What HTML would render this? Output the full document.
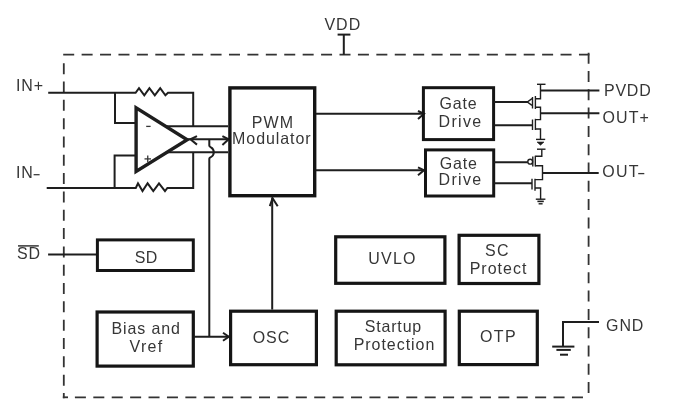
<!DOCTYPE html>
<html><head><meta charset="utf-8"><style>
html,body{margin:0;padding:0;background:#fff;width:685px;height:417px;overflow:hidden}
svg{position:absolute;left:0;top:0;font-family:"Liberation Sans",sans-serif}
svg{filter:grayscale(1)}
</style></head><body>
<svg width="685" height="417" viewBox="0 0 685 417">
<line x1="63.2" y1="54.6" x2="589.4" y2="54.6" stroke="#333333" stroke-width="1.8" stroke-dasharray="11 7.42"/>
<line x1="63.8" y1="63.2" x2="63.8" y2="398.3" stroke="#333333" stroke-width="1.8" stroke-dasharray="11 7.32"/>
<line x1="588.6" y1="52.7" x2="588.6" y2="397.3" stroke="#333333" stroke-width="1.8" stroke-dasharray="11 7.3"/>
<line x1="62.8" y1="397.3" x2="68" y2="397.3" stroke="#333333" stroke-width="1.8" />
<line x1="74.9" y1="397.3" x2="588" y2="397.3" stroke="#333333" stroke-width="1.8" stroke-dasharray="11 7.41"/>
<text transform="translate(342.80,30.0) scale(1,1.07)" font-size="16" letter-spacing="1.0" text-anchor="middle" fill="#363636" stroke="#363636" stroke-width="0.0">VDD</text>
<line x1="337.6" y1="34.6" x2="350.4" y2="34.6" stroke="#1e1e1e" stroke-width="2.0" />
<line x1="343.8" y1="34.6" x2="343.8" y2="54.7" stroke="#1e1e1e" stroke-width="2.0" />
<text transform="translate(16.00,91.1) scale(1,1.07)" font-size="16" letter-spacing="0.85" text-anchor="start" fill="#363636" stroke="#363636" stroke-width="0.0">IN+</text>
<text transform="translate(16.00,178) scale(1,1.07)" font-size="16" letter-spacing="0.85" text-anchor="start" fill="#363636" stroke="#363636" stroke-width="0.0">IN</text>
<line x1="33.6" y1="174.7" x2="39.6" y2="174.7" stroke="#363636" stroke-width="1.25" />
<path d="M48.2,92.8 L135.6,92.8 L139,88.2 L144.3,95.3 L149.4,88.2 L154.8,95.3 L160.2,88.2 L165.4,95.3 L168,92.8 L193.2,92.8 L193.2,126.3" stroke="#1e1e1e" stroke-width="2.0" fill="none" />
<path d="M115,92.8 L115,122.9 L136,122.9" stroke="#1e1e1e" stroke-width="2.0" fill="none" />
<path d="M46.7,188 L135.8,188 L138,183.3 L142.5,191.1 L147.6,183.3 L153.3,191.1 L159,183.3 L165,191.1 L167.4,188 L193.2,188 L193.2,152.4" stroke="#1e1e1e" stroke-width="2.0" fill="none" />
<path d="M114.6,188 L114.6,155.5 L136,155.5" stroke="#1e1e1e" stroke-width="2.0" fill="none" />
<path d="M136.1,107.8 L136.1,171.5 L187.2,139.7 Z" stroke="#1e1e1e" stroke-width="3.4" fill="none" stroke-linejoin="miter"/>
<line x1="166.5" y1="126.3" x2="228" y2="126.3" stroke="#1e1e1e" stroke-width="2.0" />
<line x1="166.5" y1="152.3" x2="228" y2="152.3" stroke="#1e1e1e" stroke-width="2.0" />
<line x1="186" y1="139.3" x2="228.5" y2="139.3" stroke="#1e1e1e" stroke-width="2.0" />
<path d="M197.00,136.20 L190.4,139.3 L197.00,144.60" stroke="#1e1e1e" stroke-width="2.0" fill="none" />
<path d="M222.40,136.20 L228.6,139.3 L222.40,144.90" stroke="#1e1e1e" stroke-width="2.0" fill="none" />
<line x1="146.2" y1="126.4" x2="150.6" y2="126.4" stroke="#363636" stroke-width="1.3" />
<line x1="144.5" y1="158.9" x2="151" y2="158.9" stroke="#363636" stroke-width="1.3" />
<line x1="147.75" y1="155.6" x2="147.75" y2="162.2" stroke="#363636" stroke-width="1.3" />
<path d="M209.3,139.3 L209.3,145.6 C209.3,146.6 210.2,146.8 211,147.4 C213,148.6 213.8,150.2 213.8,152.2 C213.8,154.2 213,155.8 211,157 C210.2,157.6 209.3,157.8 209.3,158.8 L209.3,336.8" stroke="#1e1e1e" stroke-width="2.0" fill="none" />
<rect x="229.90" y="87.90" width="84.80" height="107.80" stroke="#151515" stroke-width="3.4" fill="none"/>
<text transform="translate(272.93,127.6) scale(1,1.07)" font-size="16" letter-spacing="1.15" text-anchor="middle" fill="#363636" stroke="#363636" stroke-width="0.0">PWM</text>
<text transform="translate(271.82,143.8) scale(1,1.07)" font-size="16" letter-spacing="0.94" text-anchor="middle" fill="#363636" stroke="#363636" stroke-width="0.0">Modulator</text>
<line x1="316" y1="113.8" x2="424" y2="113.8" stroke="#1e1e1e" stroke-width="2.0" />
<path d="M418.00,111.00 L424,113.8 L418.00,118.90" stroke="#1e1e1e" stroke-width="2.0" fill="none" />
<line x1="316" y1="170.2" x2="424" y2="170.2" stroke="#1e1e1e" stroke-width="2.0" />
<path d="M418.00,167.40 L424,170.2 L418.00,175.30" stroke="#1e1e1e" stroke-width="2.0" fill="none" />
<rect x="423.40" y="87.70" width="70.20" height="51.90" stroke="#151515" stroke-width="3" fill="none"/>
<text transform="translate(458.47,108.8) scale(1,1.07)" font-size="16" letter-spacing="0.83" text-anchor="middle" fill="#363636" stroke="#363636" stroke-width="0.0">Gate</text>
<text transform="translate(460.50,127.0) scale(1,1.07)" font-size="16" letter-spacing="1.3" text-anchor="middle" fill="#363636" stroke="#363636" stroke-width="0.0">Drive</text>
<rect x="425.50" y="149.90" width="68.20" height="46.10" stroke="#151515" stroke-width="3" fill="none"/>
<text transform="translate(458.72,169.2) scale(1,1.07)" font-size="16" letter-spacing="0.83" text-anchor="middle" fill="#363636" stroke="#363636" stroke-width="0.0">Gate</text>
<text transform="translate(460.50,184.5) scale(1,1.07)" font-size="16" letter-spacing="1.3" text-anchor="middle" fill="#363636" stroke="#363636" stroke-width="0.0">Drive</text>
<line x1="494" y1="102" x2="528" y2="102" stroke="#1e1e1e" stroke-width="2.0" />
<line x1="494" y1="125.3" x2="532.5" y2="125.3" stroke="#1e1e1e" stroke-width="2.0" />
<line x1="494" y1="162.2" x2="527.8" y2="162.2" stroke="#1e1e1e" stroke-width="2.0" />
<line x1="494" y1="183.2" x2="532" y2="183.2" stroke="#1e1e1e" stroke-width="2.0" />
<line x1="537" y1="84.3" x2="545.5" y2="84.3" stroke="#1e1e1e" stroke-width="1.4" />
<path d="M540.5,84.3 L540.5,98.7 L535.4,98.7" stroke="#1e1e1e" stroke-width="1.4" fill="none" />
<line x1="532.5" y1="97" x2="532.5" y2="108.5" stroke="#1e1e1e" stroke-width="1.4" />
<line x1="535.4" y1="96" x2="535.4" y2="109" stroke="#1e1e1e" stroke-width="1.4" />
<path d="M535.4,107.3 L540.5,107.3 L540.5,119.6 L535.4,119.6" stroke="#1e1e1e" stroke-width="1.4" fill="none" />
<line x1="540.5" y1="90.6" x2="599.4" y2="90.6" stroke="#1e1e1e" stroke-width="2.0" />
<line x1="540.5" y1="113.3" x2="599.4" y2="113.3" stroke="#1e1e1e" stroke-width="2.0" />
<path d="M532,98.6 L527.4,102 L532,105.4" stroke="#1e1e1e" stroke-width="1.4" fill="none" />
<line x1="535.4" y1="118.8" x2="535.4" y2="130" stroke="#1e1e1e" stroke-width="1.4" />
<line x1="532.5" y1="119.5" x2="532.5" y2="130" stroke="#1e1e1e" stroke-width="1.4" />
<path d="M535.4,129 L540.5,129 L540.5,139.4" stroke="#1e1e1e" stroke-width="1.4" fill="none" />
<line x1="536" y1="139.4" x2="545.2" y2="139.4" stroke="#1e1e1e" stroke-width="1.4" />
<path d="M537,142 L544,142 L540.5,145.2 Z" stroke="#1e1e1e" stroke-width="0.6" fill="#1e1e1e" />
<line x1="537" y1="149.2" x2="545.5" y2="149.2" stroke="#1e1e1e" stroke-width="1.4" />
<path d="M541.8,149.2 L541.8,156.3 L535.3,156.3" stroke="#1e1e1e" stroke-width="1.4" fill="none" />
<line x1="535.3" y1="155.8" x2="535.3" y2="166.6" stroke="#1e1e1e" stroke-width="1.4" />
<line x1="532.8" y1="156.5" x2="532.8" y2="166.6" stroke="#1e1e1e" stroke-width="1.4" />
<circle cx="530.2" cy="161.7" r="2.4" stroke="#1e1e1e" stroke-width="1.4" fill="none"/>
<path d="M535.3,165.8 L542.5,165.8 L542.5,179.6 L535,179.6" stroke="#1e1e1e" stroke-width="1.4" fill="none" />
<line x1="542.5" y1="173" x2="598.7" y2="173" stroke="#1e1e1e" stroke-width="2.0" />
<line x1="535" y1="178.8" x2="535" y2="190.8" stroke="#1e1e1e" stroke-width="1.4" />
<line x1="532" y1="178.8" x2="532" y2="189.4" stroke="#1e1e1e" stroke-width="1.4" />
<path d="M535,188 L540.6,188 L540.6,199.2" stroke="#1e1e1e" stroke-width="1.4" fill="none" />
<line x1="535.8" y1="199.2" x2="545.4" y2="199.2" stroke="#1e1e1e" stroke-width="1.4" />
<line x1="537.4" y1="201.4" x2="543.8" y2="201.4" stroke="#1e1e1e" stroke-width="1.6" />
<line x1="538.6" y1="203.8" x2="542.6" y2="203.8" stroke="#1e1e1e" stroke-width="1.4" />
<text transform="translate(604.00,95.9) scale(1,1.07)" font-size="16" letter-spacing="0.77" text-anchor="start" fill="#363636" stroke="#363636" stroke-width="0.0">PVDD</text>
<text transform="translate(602.50,122.5) scale(1,1.07)" font-size="16" letter-spacing="1.1" text-anchor="start" fill="#363636" stroke="#363636" stroke-width="0.0">OUT+</text>
<text transform="translate(602.20,176.6) scale(1,1.07)" font-size="16" letter-spacing="1.33" text-anchor="start" fill="#363636" stroke="#363636" stroke-width="0.0">OUT</text>
<line x1="638.2" y1="173.6" x2="644.3" y2="173.6" stroke="#363636" stroke-width="1.3" />
<text transform="translate(17.00,258.7) scale(1,1.07)" font-size="16" letter-spacing="0.8" text-anchor="start" fill="#363636" stroke="#363636" stroke-width="0.0">SD</text>
<line x1="18.0" y1="245.9" x2="38.8" y2="245.9" stroke="#363636" stroke-width="1.5" />
<line x1="48.1" y1="254.4" x2="96" y2="254.4" stroke="#1e1e1e" stroke-width="2.0" />
<rect x="97.40" y="239.90" width="95.90" height="30.60" stroke="#151515" stroke-width="3" fill="none"/>
<text transform="translate(146.15,262.9) scale(1,1.07)" font-size="16" letter-spacing="0.3" text-anchor="middle" fill="#363636" stroke="#363636" stroke-width="0.0">SD</text>
<rect x="97.10" y="312.00" width="96.20" height="54.10" stroke="#151515" stroke-width="3.2" fill="none"/>
<text transform="translate(146.09,333.9) scale(1,1.07)" font-size="16" letter-spacing="0.87" text-anchor="middle" fill="#363636" stroke="#363636" stroke-width="0.0">Bias and</text>
<text transform="translate(146.50,351.5) scale(1,1.07)" font-size="16" letter-spacing="1.3" text-anchor="middle" fill="#363636" stroke="#363636" stroke-width="0.0">Vref</text>
<line x1="194" y1="336.8" x2="229" y2="336.8" stroke="#1e1e1e" stroke-width="2.0" />
<path d="M223.00,332.70 L228.8,336.7 L223.00,340.70" stroke="#1e1e1e" stroke-width="2.0" fill="none" />
<rect x="230.60" y="311.20" width="85.80" height="53.50" stroke="#151515" stroke-width="3.2" fill="none"/>
<text transform="translate(271.48,342.6) scale(1,1.07)" font-size="16" letter-spacing="0.95" text-anchor="middle" fill="#363636" stroke="#363636" stroke-width="0.0">OSC</text>
<line x1="272.2" y1="309.6" x2="272.2" y2="197.4" stroke="#1e1e1e" stroke-width="2.0" />
<path d="M269.80,206.20 L272.6,198.2 L277.70,206.20" stroke="#1e1e1e" stroke-width="2.0" fill="none" />
<rect x="335.70" y="236.80" width="109.20" height="46.50" stroke="#151515" stroke-width="3.2" fill="none"/>
<text transform="translate(392.50,263.9) scale(1,1.07)" font-size="16" letter-spacing="1.2" text-anchor="middle" fill="#363636" stroke="#363636" stroke-width="0.0">UVLO</text>
<rect x="459.10" y="235.30" width="79.80" height="48.20" stroke="#151515" stroke-width="3.2" fill="none"/>
<text transform="translate(497.50,255.7) scale(1,1.07)" font-size="16" letter-spacing="1.3" text-anchor="middle" fill="#363636" stroke="#363636" stroke-width="0.0">SC</text>
<text transform="translate(498.50,273.7) scale(1,1.07)" font-size="16" letter-spacing="1.0" text-anchor="middle" fill="#363636" stroke="#363636" stroke-width="0.0">Protect</text>
<rect x="336.20" y="311.20" width="108.90" height="53.60" stroke="#151515" stroke-width="3.2" fill="none"/>
<text transform="translate(393.41,331.6) scale(1,1.07)" font-size="16" letter-spacing="0.82" text-anchor="middle" fill="#363636" stroke="#363636" stroke-width="0.0">Startup</text>
<text transform="translate(394.48,349.5) scale(1,1.07)" font-size="16" letter-spacing="0.96" text-anchor="middle" fill="#363636" stroke="#363636" stroke-width="0.0">Protection</text>
<rect x="459.30" y="311.20" width="78.00" height="53.40" stroke="#151515" stroke-width="3.2" fill="none"/>
<text transform="translate(498.48,341.8) scale(1,1.07)" font-size="16" letter-spacing="1.45" text-anchor="middle" fill="#363636" stroke="#363636" stroke-width="0.0">OTP</text>
<path d="M599,322 L563,322 L563,346.6" stroke="#1e1e1e" stroke-width="2.0" fill="none" />
<line x1="552.2" y1="346.6" x2="574.4" y2="346.6" stroke="#1e1e1e" stroke-width="2.0" />
<line x1="556.4" y1="349.9" x2="570.8" y2="349.9" stroke="#1e1e1e" stroke-width="2.0" />
<line x1="560" y1="354.7" x2="568" y2="354.7" stroke="#1e1e1e" stroke-width="2.0" />
<text transform="translate(606.00,330.8) scale(1,1.07)" font-size="16" letter-spacing="0.95" text-anchor="start" fill="#363636" stroke="#363636" stroke-width="0.0">GND</text>
</svg>
</body></html>
